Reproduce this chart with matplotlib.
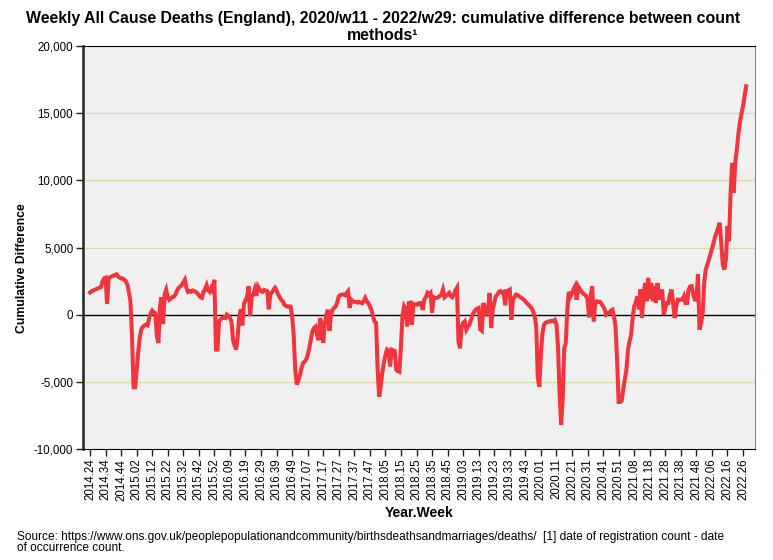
import matplotlib.pyplot as plt
from matplotlib.ticker import FuncFormatter

# weeks covered by each year in the series (2014.24 .. 2022.28)
years = [2014, 2015, 2016, 2017, 2018, 2019, 2020, 2021, 2022]
first_week = [24, 1, 1, 1, 1, 1, 1, 1, 1]
last_week = [52, 53, 52, 52, 52, 52, 53, 52, 28]

# cumulative difference (registration count - occurrence count)
diff_2014 = [1650, 1750, 1800, 1850, 1900, 1950, 2000, 2050, 2450, 2700,
             2750, 800, 2700, 2800, 2850, 2900, 2950, 3000, 2850, 2750,
             2700, 2700, 2600, 2500, 2250, 1700, 1000, -1500, -5400]
diff_2015 = [-5400, -4200, -2800, -1700, -1100, -900, -800, -750, -800, -300,
             100, 300, 150, 100, -1600, -2100, 600, 1300, -700, 1500,
             1850, 1300, 1100, 1200, 1300, 1350, 1500, 1800, 2000, 2100,
             2200, 2400, 2600, 2000, 1700, 1750, 1700, 1800, 1750, 1700,
             1600, 1450, 1300, 1250, 1700, 1900, 2200, 1800, 1700, 2000,
             1800, 2600, -2600]
diff_2016 = [-2600, -500, -350, -250, -200, -250, 0, -100, -250, -500,
             -1900, -2300, -2600, -1600, -100, 400, -800, 800, 1100, 1300,
             2100, -100, 1400, 1500, 1900, 1400, 2100, 1900, 1750, 1700,
             1850, 1800, 1750, 400, 1600, 1650, 1850, 2000, 1800, 1500,
             1300, 1100, 1000, 750, 650, 600, 620, 600, -100, -1500,
             -4100, -5200]
diff_2017 = [-4900, -4500, -4000, -3600, -3500, -3360, -3000, -2500, -1900, -1250,
             -1000, -900, -1500, -1900, -250, -800, -2100, -700, 0, 370,
             -1200, 0, 370, 500, 620, 900, 1370, 1450, 1500, 1500,
             1450, 1600, 1750, 500, 1120, 1000, 950, 950, 900, 950,
             900, 850, 1000, 1250, 1000, 870, 600, 370, -100, -500,
             -620, -4100]
diff_2018 = [-6100, -5300, -4300, -3600, -3000, -2600, -2700, -3850, -2600, -2650,
             -2700, -4100, -4200, -4250, -2300, -100, 620, 400, -870, 870,
             900, -750, 800, 750, 780, 750, 870, 870, 350, 1120,
             1300, 1620, 1500, 1620, 150, 1300, 1250, 1250, 1300, 1400,
             1500, 1870, 1300, 1400, 1500, 1620, 1400, 1300, 1500, 1800,
             2000, -2000]
diff_2019 = [-2500, -870, -620, -500, -1120, -900, -750, -400, 0, 200,
             370, 450, 500, -1100, -1200, 870, 400, 150, 400, 1620,
             -990, 370, 900, 1370, 1500, 1700, 1750, 1650, 1700, 700,
             1740, 1800, 1870, -370, 1120, 1300, 1500, 1450, 1370, 1300,
             1200, 1120, 1000, 850, 750, 600, 500, 250, -120, -870,
             -4700, -5350]
diff_2020 = [-2900, -1400, -750, -600, -550, -500, -500, -450, -500, -400,
             -700, -2400, -5800, -8200, -6300, -2500, -2100, 400, 1700, 1370,
             1600, 1900, 2120, 1120, 2100, 1900, 1740, 1600, 1500, 1400,
             1120, -200, 1400, 2100, -500, 950, 1000, 950, 950, 800,
             620, 400, 0, 100, 120, 300, 370, -120, -870, -3400,
             -6500, -6500, -6400]
diff_2021 = [-5500, -4800, -4100, -2600, -2000, -1500, -250, 620, 900, 1370,
             400, 1870, -250, 1500, 2360, 1000, 2740, 1200, 2360, 1000,
             2110, 870, 2360, 1120, 1500, 1870, 0, 500, 870, 870,
             1500, 1870, 900, -250, 600, 1120, 1120, 1100, 1120, 1370,
             870, 870, 1870, 2100, 2120, 1500, 1120, 1120, 3000, -1120,
             -620, 0]
diff_2022 = [2360, 3360, 3700, 4100, 4500, 4900, 5300, 5800, 6090, 6500,
             6840, 5350, 3700, 3360, 4100, 6590, 5470, 9080, 11300, 9080,
             11300, 12300, 13450, 14300, 15000, 15500, 16300, 17000]

values = (diff_2014 + diff_2015 + diff_2016 + diff_2017 + diff_2018
          + diff_2019 + diff_2020 + diff_2021 + diff_2022)

labels = []
for y, w0, w1 in zip(years, first_week, last_week):
    for w in range(w0, w1 + 1):
        labels.append(f"{y}.{w:02d}")

plt.rcParams['font.family'] = ['Liberation Sans', 'DejaVu Sans']

fig = plt.figure(figsize=(7.73, 5.6), dpi=100)
ax = fig.add_axes([83 / 773, 1 - 449 / 560, (755 - 83) / 773, (449 - 46) / 560])
ax.set_facecolor('#F0F0F0')

x = list(range(len(values)))
ax.plot(x, values, color='#F2353D', linewidth=2.9, solid_joinstyle='miter', zorder=3)

ax.set_ylim(-10000, 20000)
ax.set_yticks(range(-10000, 20001, 5000))
ax.yaxis.set_major_formatter(FuncFormatter(lambda v, p: f"{int(v):,}"))
for v in range(-5000, 20001, 5000):
    if v == 0:
        ax.axhline(0, color='black', linewidth=1.0, zorder=2)
    else:
        ax.axhline(v, color='#D9D7A3', linewidth=0.9, zorder=1)

ax.set_xlim(-4.5, 427.7)
ax.set_xticks(x[::10])
ax.set_xticklabels(labels[::10], rotation=90)

ax.tick_params(axis='both', labelsize=8.3, length=5, width=1, color='#222222', pad=2)
ax.spines['left'].set_linewidth(1.8)
ax.spines['left'].set_color('#222222')
ax.spines['bottom'].set_color('black')
ax.spines['top'].set_color('black')
ax.spines['right'].set_color('#888888')

ax.set_xlabel('Year.Week', fontsize=10, fontweight='bold', labelpad=4)
ax.set_ylabel('Cumulative Difference', fontsize=8.8, fontweight='bold')
ax.yaxis.set_label_coords(-0.082, 0.45)

fig.text(0.495, 0.967, 'Weekly All Cause Deaths (England), 2020/w11 - 2022/w29: cumulative difference between count',
         ha='center', va='center', fontsize=11.4, fontweight='bold')
fig.text(0.495, 0.936, 'methods\u00b9', ha='center', va='center', fontsize=11.4, fontweight='bold')

fig.text(17 / 773, 1 - 537 / 560,
         'Source: https://www.ons.gov.uk/peoplepopulationandcommunity/birthsdeathsandmarriages/deaths/  [1] date of registration count - date',
         ha='left', va='center', fontsize=8.6)
fig.text(17 / 773, 1 - 548 / 560, 'of occurrence count.', ha='left', va='center', fontsize=8.6)

plt.savefig('out.png', dpi=100)
